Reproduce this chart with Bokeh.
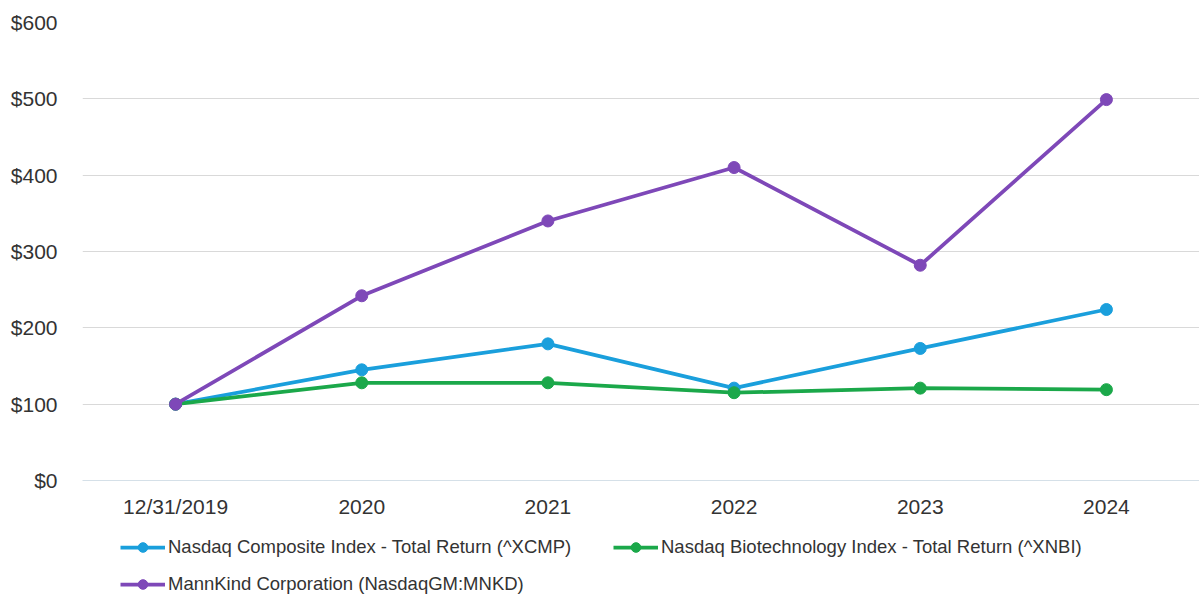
from bokeh.plotting import figure
from bokeh.layouts import column
from bokeh.models import (FactorRange, Range1d, FixedTicker, NumeralTickFormatter,
                          Legend, LegendItem, ColumnDataSource)
from bokeh.embed import file_html
from bokeh.resources import INLINE

categories = ["12/31/2019", "2020", "2021", "2022", "2023", "2024"]
nasdaq_composite = [100, 145, 179, 121, 173, 224]
nasdaq_biotech = [100, 128, 128, 115, 121, 119]
mannkind = [100, 242, 340, 410, 282, 499]
y_ticks = [0, 100, 200, 300, 400, 500, 600]

series_names = [
    "Nasdaq Composite Index - Total Return (^XCMP)",
    "Nasdaq Biotechnology Index - Total Return (^XNBI)",
    "MannKind Corporation (NasdaqGM:MNKD)",
]
series_values = [nasdaq_composite, nasdaq_biotech, mannkind]
colors = ["#1a9fdc", "#1ba84a", "#7e48b8"]

FONT = "Liberation Sans"
TEXT = "#333333"
LW = 3.75
MS = 12

x_range = FactorRange(*categories, range_padding=0)
y_range = Range1d(0, 600)

# main chart
p = figure(width=1199, height=520, x_range=x_range, y_range=y_range,
           output_backend="svg", toolbar_location=None,
           min_border_left=82, min_border_right=0, min_border_top=22, min_border_bottom=39)
p.outline_line_color = None

# legend strip
q = figure(width=1199, height=76, x_range=x_range, y_range=y_range,
           output_backend="svg", toolbar_location=None,
           x_axis_location=None, y_axis_location=None,
           min_border_left=0, min_border_right=0, min_border_top=0, min_border_bottom=0)
q.outline_line_color = None
q.grid.visible = False

legend_renderers = []
for name, vals, c in zip(series_names, series_values, colors):
    src = ColumnDataSource(dict(x=categories, y=vals))
    p.line("x", "y", source=src, line_color=c, line_width=LW)
    p.scatter("x", "y", source=src, fill_color=c, line_color=c, size=MS)
    l2 = q.line("x", "y", source=src, line_color=c, line_width=LW, visible=False)
    s2 = q.scatter("x", "y", source=src, fill_color=c, line_color=c, size=MS, visible=False)
    legend_renderers.append([l2, s2])

p.yaxis.ticker = FixedTicker(ticks=y_ticks)
p.yaxis.formatter = NumeralTickFormatter(format="$0,0")
p.yaxis.axis_line_color = None
p.yaxis.major_tick_line_color = None
p.yaxis.minor_tick_line_color = None
p.yaxis.major_label_standoff = 19
p.yaxis.major_label_text_font = FONT
p.yaxis.major_label_text_font_size = "21px"
p.yaxis.major_label_text_color = TEXT

p.xaxis.axis_line_color = "#d5e0e8"
p.xaxis.axis_line_width = 1
p.xaxis.major_tick_line_color = None
p.xaxis.minor_tick_line_color = None
p.xaxis.major_label_standoff = 8
p.xaxis.major_label_text_font = FONT
p.xaxis.major_label_text_font_size = "21px"
p.xaxis.major_label_text_color = TEXT

p.xgrid.grid_line_color = None
p.ygrid.grid_line_color = "#d9d9d9"
p.ygrid.grid_line_width = 1.2


def make_legend(idx, loc):
    items = [LegendItem(label=series_names[i], renderers=legend_renderers[i]) for i in idx]
    return Legend(items=items, location=loc, orientation="horizontal",
                  border_line_color=None, background_fill_alpha=0,
                  inactive_fill_alpha=0,
                  padding=0, margin=0, spacing=13,
                  glyph_width=45, glyph_height=24, label_height=24, label_width=432,
                  label_standoff=3, label_text_font=FONT,
                  label_text_font_size="18.5px", label_text_color=TEXT)


q.add_layout(make_legend([0, 1], (38, 37)), "center")
q.add_layout(make_legend([2], (38, 0)), "center")

layout = column(p, q, spacing=0)
open("out.html", "w").write(file_html(layout, INLINE))
